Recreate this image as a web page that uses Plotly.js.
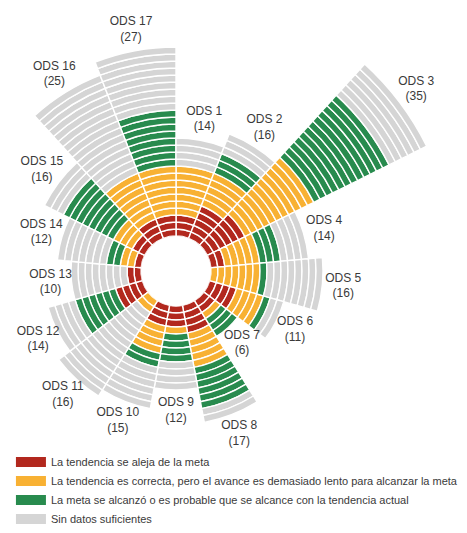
<!DOCTYPE html>
<html><head><meta charset="utf-8">
<script src="https://cdn.plot.ly/plotly-3.0.1.min.js"></script>
<style>
html,body{margin:0;padding:0;width:467px;height:533px;overflow:hidden;background:#fff;}
#wrap{position:relative;width:467px;height:533px;overflow:hidden;}
#chart{position:absolute;left:-139px;top:-44px;width:630px;height:630px;}
</style></head><body>
<div id="wrap"><div id="chart"></div></div>
<script>
// Categories (clockwise from the top)
const ods = ['ODS 1','ODS 2','ODS 3','ODS 4','ODS 5','ODS 6','ODS 7','ODS 8','ODS 9',
             'ODS 10','ODS 11','ODS 12','ODS 13','ODS 14','ODS 15','ODS 16','ODS 17'];
// Number of indicators per ODS (shown in the labels)
const totals = [14,16,35,14,16,11,6,17,12,15,16,14,10,12,16,25,27];
// Indicators by status, per ODS
const alejaMeta    = [3,5,6,2,0,4,2,4,3,3,0,4,2,1,2,3,3];
const avanceLento  = [7,5,11,5,7,4,1,5,1,4,2,0,0,2,3,7,7];
const metaAlcanza  = [0,3,12,3,1,1,3,6,4,2,0,6,0,2,8,0,8];
const sinDatos     = [4,3,6,4,8,2,0,2,4,6,14,4,8,7,3,15,9];
// Legend labels
const seriesNames = [
  'La tendencia se aleja de la meta',
  'La tendencia es correcta, pero el avance es demasiado lento para alcanzar la meta',
  'La meta se alcanzó o es probable que se alcance con la tendencia actual',
  'Sin datos suficientes'
];

const FONT = '"Liberation Sans", Arial, sans-serif';
const colors = ['#B2281E', '#F8B133', '#288B4E', '#D5D5D5'];
const seriesValues = [alejaMeta, avanceLento, metaAlcanza, sinDatos];
const LABEL_GAP = 3;

const traces = [];
const offsets = ods.map(() => 0);
seriesValues.forEach((vals, s) => {
  const theta = [], r = [], base = [];
  vals.forEach((n, i) => {
    for (let j = 0; j < n; j++) {
      theta.push(ods[i]); r.push(1); base.push(offsets[i] + j);
    }
    offsets[i] += n;
  });
  traces.push({
    type: 'barpolar', name: seriesNames[s], theta: theta, r: r, base: base,
    marker: {color: colors[s], line: {color: '#ffffff', width: 1.4}},
    showlegend: false, hoverinfo: 'skip'
  });
});

// legend entries (wide colour swatches)
seriesNames.forEach((name, s) => {
  traces.push({
    type: 'scatterpolar', mode: 'lines', name: name, r: [null], theta: [null],
    line: {color: colors[s], width: 11}, showlegend: true, hoverinfo: 'skip'
  });
});

traces.push({
  type: 'scatterpolar', mode: 'text', showlegend: false, cliponaxis: false,
  theta: ods, r: totals.map(t => t + LABEL_GAP),
  text: ods.map((o, i) => o + '<br>(' + totals[i] + ')'),
  textposition: 'middle center',
  textfont: {family: FONT, size: 12, color: '#3a3a3a'},
  hoverinfo: 'skip'
});

const layout = {
  width: 630, height: 630,
  margin: {l: 0, r: 0, t: 0, b: 0, autoexpand: false},
  paper_bgcolor: 'rgba(0,0,0,0)',
  showlegend: true,
  legend: {
    x: 0.238, y: 0.22, xanchor: 'left', yanchor: 'top',
    bgcolor: 'rgba(0,0,0,0)', traceorder: 'normal', itemwidth: 30,
    font: {family: FONT, size: 11, color: '#3a3a3a'}
  },
  polar: {
    domain: {x: [0, 1], y: [0, 1]},
    hole: 35 / 315,
    bargap: 0,
    barmode: 'overlay',
    bgcolor: 'rgba(0,0,0,0)',
    radialaxis: {range: [0, 40], visible: false, showgrid: false, showline: false, showticklabels: false, ticks: ''},
    angularaxis: {
      type: 'category', categoryorder: 'array', categoryarray: ods,
      direction: 'clockwise', rotation: 90 - 180 / 17,
      visible: false, showgrid: false, showline: false, showticklabels: false, ticks: ''
    }
  }
};

Plotly.newPlot('chart', traces, layout, {displayModeBar: false, staticPlot: true});
</script>
</body></html>
